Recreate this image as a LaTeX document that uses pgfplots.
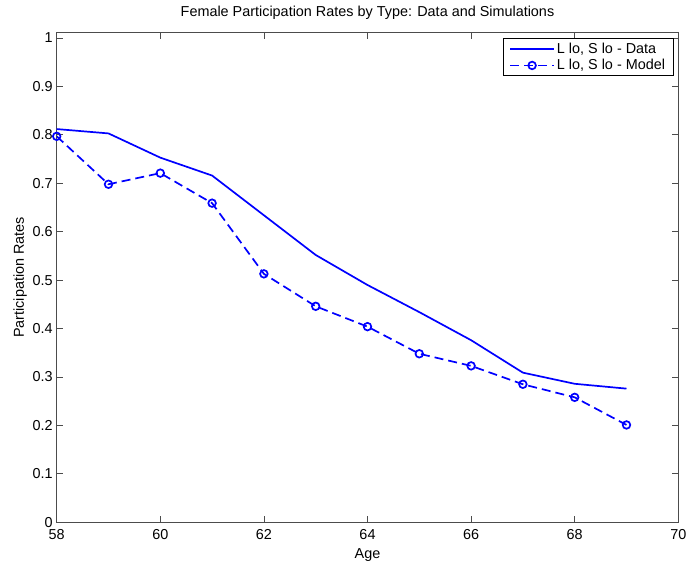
\documentclass[border=0pt]{standalone}
\usepackage{fontspec}
\setmainfont{Liberation Sans}
\usepackage{pgfplots}
\pgfplotsset{compat=1.18}
\pgfplotsset{
  legend image code/.code={%
    \draw[mark repeat=2,mark phase=2,#1] plot coordinates {(0pt,0pt) (22pt,0pt) (44pt,0pt)};%
  }
}
\definecolor{axgray}{gray}{0.3}
\begin{document}
\fontsize{14.4}{17}\selectfont
\begin{tikzpicture}
\begin{axis}[
  name=ax,
  scale only axis,
  width=621.6pt, height=489.6pt,
  xmin=58, xmax=70, ymin=0, ymax=1.011,
  xtick={58,60,62,64,66,68,70},
  ytick={0,0.1,0.2,0.3,0.4,0.5,0.6,0.7,0.8,0.9,1},
  tick align=inside,
  major tick length=6pt,
  axis line style={axgray, line width=0.8pt},
  every tick/.style={axgray, line width=0.8pt},
  /pgf/number format/assume math mode=true,
  tick label style={font=\fontsize{14.4}{17}\selectfont, black},
  xticklabel style={yshift=-2pt},
  yticklabel style={xshift=1pt},
  label style={font=\fontsize{14.4}{17}\selectfont},
  xlabel={Age},
  ylabel={Participation Rates},
  xlabel style={yshift=1pt},
  ylabel style={yshift=-4pt},
  title={Female Participation Rates by Type: Data and Simulations},
  title style={font=\fontsize{14.4}{17}\selectfont, at={(0.5,1)}, anchor=south, yshift=2pt},
  legend style={at={(0.992,0.9886)}, anchor=north east, draw=black, line width=0.6pt,
    font=\fontsize{14.4}{17}\selectfont, legend cell align=left,
    inner xsep=6pt, inner ysep=2pt, row sep=0pt},
]
\addplot[blue, line width=1.7pt] coordinates {
  (58,0.812) (59,0.803) (60,0.753) (61,0.716) (62,0.634) (63,0.552)
  (64,0.490) (65,0.434) (66,0.376) (67,0.309) (68,0.286) (69,0.276)
};
\addlegendentry{L lo, S lo - Data}
\addplot[blue, line width=1.7pt, dash pattern=on 9pt off 5pt, mark=o, mark size=3.8pt, mark options={solid}] coordinates {
  (58,0.797) (59,0.698) (60,0.721) (61,0.659) (62,0.513) (63,0.446)
  (64,0.404) (65,0.348) (66,0.323) (67,0.285) (68,0.258) (69,0.201)
};
\addlegendentry{L lo, S lo - Model}
\end{axis}
\pgfresetboundingbox
\path[use as bounding box] ([shift={(-56.7pt,-40.7pt)}]ax.south west) rectangle ([shift={(9.7pt,32.7pt)}]ax.north east);
\end{tikzpicture}
\end{document}
